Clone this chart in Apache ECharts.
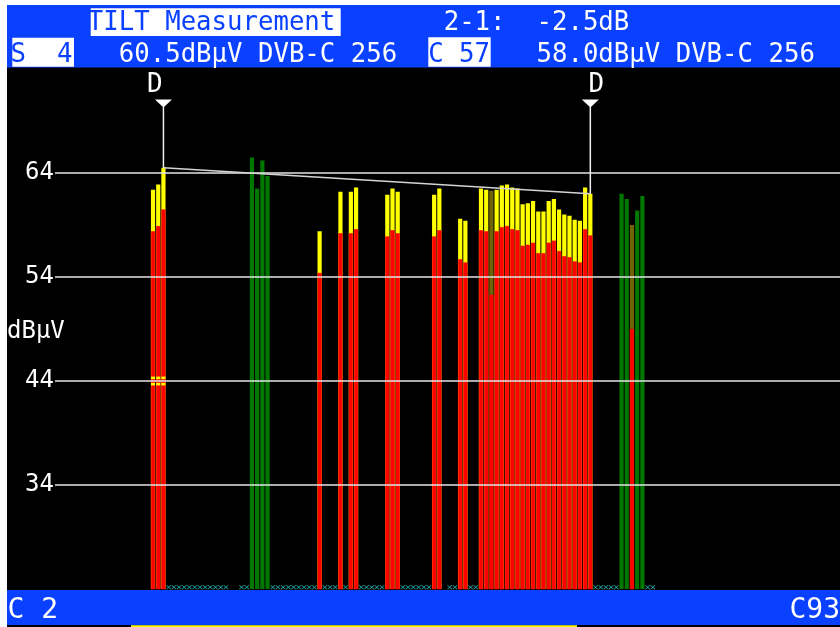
<!DOCTYPE html>
<html>
<head>
<meta charset="utf-8">
<script src="https://cdn.jsdelivr.net/npm/echarts@6/dist/echarts.min.js"></script>
<style>
  html, body { margin: 0; padding: 0; background: #ffffff; }
  #c { width: 840px; height: 627px; }
</style>
</head>
<body>
<div id="c"></div>
<script>
// ---- channel data (slot index along the frequency axis) ----
// DVB-C 256 channels: measured level (red) and the level+QAM-offset top (yellow)
const digitalSlots  = [18, 19, 20, 50, 54, 56, 57, 63, 64, 65, 72, 73, 77, 78, 81, 82,
                       84, 85, 86, 87, 88, 89, 90, 91, 92, 93, 94, 95, 96, 97, 98, 99, 100, 101, 102];
const digitalLevels = [58.4, 58.9, 60.5, 54.4, 58.2, 58.2, 58.6, 57.9, 58.5, 58.2, 57.9, 58.5, 55.7, 55.4, 58.5, 58.4,
                       58.4, 58.8, 58.9, 58.6, 58.5, 57.0, 57.1, 57.3, 56.3, 56.3, 57.3, 57.5, 56.5, 56.0, 55.9, 55.5, 55.4, 58.6, 58.0];
const digitalTops   = [62.4, 62.9, 64.5, 58.4, 62.2, 62.2, 62.6, 61.9, 62.5, 62.2, 61.9, 62.5, 59.6, 59.4, 62.5, 62.4,
                       62.4, 62.8, 62.9, 62.6, 62.5, 61.0, 61.1, 61.3, 60.3, 60.3, 61.3, 61.5, 60.5, 60.0, 59.9, 59.5, 59.4, 62.6, 62.0];

// analogue carriers (green)
const analogSlots  = [37, 38, 39, 40, 108, 109, 111, 112];
const analogLevels = [65.5, 62.5, 65.2, 63.7, 62.0, 61.5, 60.4, 61.8];

// channels with an olive upper section above the red level
const mixedSlots  = [83, 110];
const mixedLevels = [52.3, 49.0];
const mixedTops   = [62.3, 59.0];

// empty channel slots (marked with small crosses on the baseline)
const emptySlots = [21, 22, 23, 24, 25, 26, 27, 28, 29, 30, 31, 32, 35, 36,
                    41, 42, 43, 44, 45, 46, 47, 48, 49, 51, 52, 53, 55,
                    58, 59, 60, 61, 62, 66, 67, 68, 69, 70, 71, 75, 76, 79, 80,
                    103, 104, 105, 106, 107, 113, 114];

// small level marks drawn on the first three channels
const markSlots  = [18, 19, 20];
const markLevels = [44.3, 43.7];

// tilt cursors: channel names and slots
const cursorNames = ['S  4', 'C 57'];
const cursorSlots = [20, 102];

// axis
const yTicks = [34, 44, 54, 64];
const yMin = 24, yMax = 74, yStep = 10;
const startLabel = 'C 2', stopLabel = 'C93';
const unitLabel = 'dBµV';
const modulation = 'DVB-C 256';
const title = 'TILT Measurement';

// ---- derived values ----
const levelAt = s => digitalLevels[digitalSlots.indexOf(s)];
const topAt = s => digitalTops[digitalSlots.indexOf(s)];
const lvl1 = levelAt(cursorSlots[0]);
const lvl2 = levelAt(cursorSlots[1]);
const tilt = lvl2 - lvl1;

const pairs = (xs, ys) => xs.map((x, i) => [x, ys[i]]);

const BLUE = '#0a40ff';
const MONO = 'DejaVu Sans Mono';
const col = c => 10.5 + 15.47 * c;   // character cell of the header text

const chart = echarts.init(document.getElementById('c'), null, { renderer: 'canvas' });

// bars of one channel overlap; the lower (red) part is drawn over the full-height part
const barCommon = {
  type: 'bar',
  barWidth: 4.2,
  barGap: '-100%',
  silent: true,
  animation: false
};
const solid = c => ({ color: c, borderColor: c, borderWidth: 0.6 });

function text(x, y, str, opts) {
  return {
    type: 'text', z: 120, silent: true,
    style: Object.assign({
      text: str, x: x, y: y, fill: '#ffffff',
      font: '25.7px "' + MONO + '"',
      textAlign: 'left', textVerticalAlign: 'middle'
    }, opts || {})
  };
}

function rect(x, y, w, h, fill, z) {
  return { type: 'rect', z: z, silent: true, shape: { x: x, y: y, width: w, height: h }, style: { fill: fill } };
}

const option = {
  backgroundColor: '#ffffff',
  animation: false,
  grid: { left: 55, right: 0, top: 69, bottom: 38, containLabel: false, outerBoundsMode: 'none' },
  xAxis: {
    type: 'value',
    min: -0.83, max: 149.96,
    show: false,
    splitLine: { show: false }
  },
  yAxis: {
    type: 'value',
    min: yMin, max: yMax, interval: yStep,
    z: 6,
    axisLine: { show: false },
    axisTick: { show: false },
    axisLabel: {
      color: '#ffffff',
      fontFamily: MONO,
      fontSize: 24,
      margin: 1,
      showMinLabel: false,
      showMaxLabel: false,
      formatter: v => (yTicks.indexOf(v) >= 0 ? String(v) : '')
    },
    splitLine: {
      show: true,
      showMinLine: false,
      showMaxLine: false,
      lineStyle: { color: '#e4e4e4', width: 1.6 }
    }
  },
  series: [
    Object.assign({}, barCommon, {
      name: 'qam top', z: 2,
      itemStyle: { color: '#ffff00' },
      data: pairs(digitalSlots, digitalTops)
    }),
    Object.assign({}, barCommon, {
      name: 'level', z: 3,
      itemStyle: solid('#ff0000'),
      data: pairs(digitalSlots, digitalLevels)
    }),
    Object.assign({}, barCommon, {
      name: 'analogue', z: 2,
      itemStyle: { color: '#007800' },
      data: pairs(analogSlots, analogLevels)
    }),
    Object.assign({}, barCommon, {
      name: 'mixed top', z: 2,
      itemStyle: { color: '#6f6406' },
      data: pairs(mixedSlots, mixedTops)
    }),
    Object.assign({}, barCommon, {
      name: 'mixed level', z: 3,
      itemStyle: solid('#ff0000'),
      data: pairs(mixedSlots, mixedLevels)
    }),
    {
      name: 'empty', type: 'scatter', silent: true, z: 4,
      symbol: 'path://M0,1L1,0L5,4L9,0L10,1L6,5L10,9L9,10L5,6L1,10L0,9L4,5Z',
      symbolSize: [5, 4.5],
      itemStyle: { color: '#22b4b4', opacity: 1 },
      data: emptySlots.map(s => [s, 24.17])
    },
    {
      name: 'marks', type: 'scatter', silent: true, z: 8,
      symbol: 'rect',
      symbolSize: [4, 2.6],
      itemStyle: { color: '#ffff00', opacity: 1 },
      data: markSlots.flatMap(s => markLevels.map(v => [s, v]))
    },
    {
      name: 'tilt', type: 'line', silent: true, z: 9,
      symbol: 'none',
      lineStyle: { color: '#d4d4d4', width: 1.6 },
      data: cursorSlots.map(s => [s, topAt(s)])
    },
    ...cursorSlots.map((s, i) => ({
      name: 'cursor ' + (i + 1), type: 'line', silent: true, z: 9,
      symbol: 'none',
      lineStyle: { color: '#f0f0f0', width: 1.5 },
      data: [[s, 70.35], [s, topAt(s)]]
    })),
    {
      name: 'cursor heads', type: 'scatter', silent: true, z: 10,
      symbol: 'triangle', symbolRotate: 180,
      symbolSize: [17, 8],
      itemStyle: { color: '#ffffff', opacity: 1 },
      label: {
        show: true,
        formatter: 'D',
        color: '#ffffff',
        opacity: 1,
        fontFamily: MONO,
        fontSize: 26,
        position: 'inside'
      },
      data: cursorSlots.map((s, i) => ({
        value: [s, 70.68],
        label: { offset: i === 0 ? [-8.5, -18.5] : [6, -18.5] }
      }))
    }
  ],
  graphic: [
    // screen background
    rect(7, 5, 833, 622, '#000000', -100),
    // header bar
    rect(7, 5, 833, 62.5, BLUE, 100),
    rect(90.7, 8.3, 250, 27.7, '#ffffff', 110),
    rect(12.3, 37.7, 61.7, 29, '#ffffff', 110),
    rect(428.3, 37.3, 62.4, 29.4, '#ffffff', 110),
    text(col(5), 23.5, title, { fill: BLUE }),
    text(col(28), 23.5, '2-1:'),
    text(col(34), 23.5, (tilt < 0 ? '-' : '+') + Math.abs(tilt).toFixed(1) + 'dB'),
    text(col(0), 55, cursorNames[0], { fill: BLUE }),
    text(col(7), 55, lvl1.toFixed(1) + unitLabel + ' ' + modulation),
    text(col(27), 55, cursorNames[1], { fill: BLUE }),
    text(col(34), 55, lvl2.toFixed(1) + unitLabel + ' ' + modulation),
    // unit label
    text(7, 332, unitLabel, { font: '24px "' + MONO + '"' }),
    // footer bar with start / stop channel
    rect(7, 590, 833, 35, BLUE, 100),
    rect(131, 625.2, 446, 1.8, '#ffff00', 110),
    text(7.5, 611, startLabel, { font: '28px "' + MONO + '"' }),
    text(840, 611, stopLabel, { font: '28px "' + MONO + '"', textAlign: 'right' })
  ]
};

chart.setOption(option);
</script>
</body>
</html>
